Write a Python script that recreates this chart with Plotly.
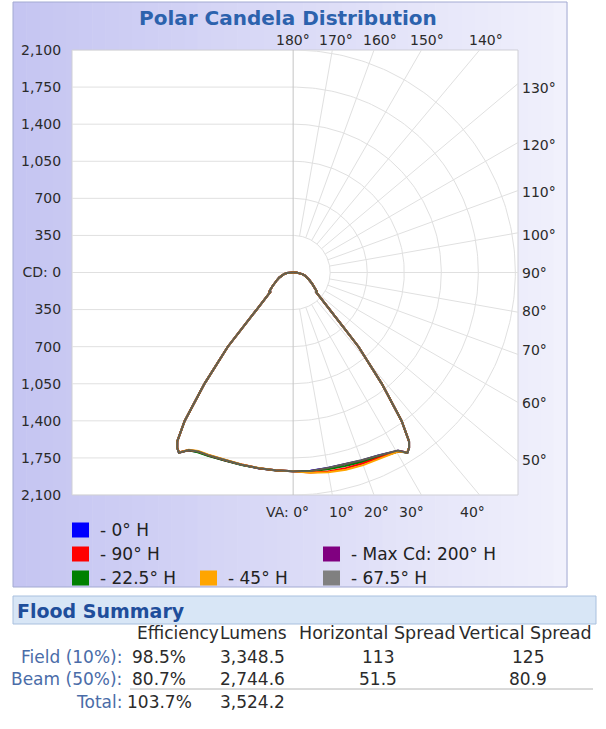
import numpy as np
import plotly.graph_objects as go

W, H = 606, 729
FONT = "DejaVu Sans"

# ---------------- data ----------------
# vertical angles (deg, 0 = straight down)
va_bottom = [0, 5, 10, 15, 20, 25, 28, 30.5, 32.4]
va_side = [33.5, 34.5, 36.2, 38.6, 41.4, 42.6, 44.6, 46.7, 49.8, 51, 52.5,
           56, 60, 65, 70, 75, 80, 85, 88, 90]
# candela shared by all planes beyond the peak (cut-off flank and top lobe)
cd_side = [1985, 1934, 1736, 1342, 934, 704, 491, 376, 277, 292, 275,
           240, 205, 168, 140, 115, 88, 60, 30, 0]

# candela of the main beam (VA 0 .. 32.4) per horizontal plane, right / left half
series_names = ["0° H", "Max Cd: 200° H", "22.5° H", "90° H", "45° H", "67.5° H"]
series_colors = ["#0000ff", "#800080", "#008000", "#ff0000", "#ffa500", "#808080"]
cd_right = {
    "0° H":           [1877, 1879, 1874, 1876, 1888, 1906, 1926, 1952, 2014],
    "Max Cd: 200° H": [1877, 1881, 1876, 1878, 1890, 1908, 1928, 1954, 2016],
    "22.5° H":        [1877, 1882, 1885, 1892, 1903, 1922, 1940, 1962, 2014],
    "90° H":          [1877, 1895, 1906, 1912, 1918, 1928, 1942, 1958, 2010],
    "45° H":          [1877, 1898, 1915, 1928, 1935, 1940, 1948, 1960, 2012],
    "67.5° H":        [1877, 1880, 1873, 1874, 1886, 1905, 1924, 1950, 2015],
}
cd_left = {
    "0° H":           [1877, 1874, 1876, 1879, 1886, 1904, 1916, 1946, 2014],
    "Max Cd: 200° H": [1877, 1875, 1877, 1880, 1888, 1906, 1918, 1948, 2016],
    "22.5° H":        [1877, 1875, 1877, 1881, 1889, 1908, 1921, 1948, 2013],
    "90° H":          [1877, 1874, 1875, 1877, 1884, 1901, 1912, 1944, 2010],
    "45° H":          [1877, 1873, 1874, 1876, 1880, 1897, 1909, 1942, 2012],
    "67.5° H":        [1877, 1873, 1875, 1878, 1884, 1902, 1914, 1945, 2015],
}

ring_values = [350, 700, 1050, 1400, 1750, 2100]
cd_tick_vals = [2100, 1750, 1400, 1050, 700, 350, 0, -350, -700, -1050, -1400, -1750, -2100]
cd_tick_text = ["2,100", "1,750", "1,400", "1,050", "700", "350", "CD: 0",
                "350", "700", "1,050", "1,400", "1,750", "2,100"]
radial_angles = list(range(10, 180, 10))

top_labels = ["180°", "170°", "160°", "150°", "140°"]
right_labels = ["130°", "120°", "110°", "100°", "90°", "80°", "70°", "60°", "50°"]
bottom_labels = ["VA: 0°", "10°", "20°", "30°", "40°"]

table_header = ["Efficiency", "Lumens", "Horizontal Spread", "Vertical Spread"]
table_rows = ["Field (10%):", "Beam (50%):", "Total:"]
efficiency = ["98.5%", "80.7%", "103.7%"]
lumens = ["3,348.5", "2,744.6", "3,524.2"]
h_spread = ["113", "51.5", ""]
v_spread = ["125", "80.9", ""]

# ---------------- layout geometry (pixels) ----------------
PL, PR, PT, PB = 72, 518, 50, 495          # plot area
XMIN, XMAX = -2090, 2125
YMAX = 2100


def px(x):
    return x / W


def py(y):
    return 1 - y / H


fig = go.Figure()

# ---------------- grid ----------------
gx, gy = [], []
for v in cd_tick_vals:
    gx += [XMIN, 0, None]
    gy += [v, v, None]
for r in ring_values:
    t = np.radians(np.linspace(0, 180, 181))
    gx += list(r * np.sin(t)) + [None]
    gy += list(-r * np.cos(t)) + [None]
for a in radial_angles:
    ar = np.radians(a)
    s, c = np.sin(ar), np.cos(ar)
    t_end = XMAX / s
    if abs(c) > 1e-9:
        t_end = min(t_end, YMAX / abs(c))
    gx += [350 * s, t_end * s, None]
    gy += [-350 * c, -t_end * c, None]
fig.add_trace(go.Scatter(x=gx, y=gy, mode="lines", line=dict(color="#e0e0e0", width=1),
                         hoverinfo="skip", showlegend=False))
fig.add_trace(go.Scatter(x=[0, 0], y=[-YMAX, YMAX], mode="lines",
                         line=dict(color="#c4c4c4", width=1),
                         hoverinfo="skip", showlegend=False))

# ---------------- candela curves ----------------
line_colors = {"67.5° H": "#5f5f52"}
for name, col in zip(series_names, series_colors):
    va_all = np.radians(np.array(va_bottom + va_side))
    cr = np.array(cd_right[name] + cd_side, dtype=float)
    cl = np.array(cd_left[name] + cd_side, dtype=float)
    xl = -cl * np.sin(va_all)
    yl = -cl * np.cos(va_all)
    xr = cr * np.sin(va_all)
    yr = -cr * np.cos(va_all)
    x = np.concatenate([xl[::-1], xr])
    y = np.concatenate([yl[::-1], yr])
    fig.add_trace(go.Scatter(x=x, y=y, mode="lines", name=name,
                             line=dict(color=line_colors.get(name, col), width=2),
                             hoverinfo="skip", showlegend=False))

# ---------------- shapes: panel, gradient, plot area ----------------
shapes = []
N = 42
x0p, x1p = 13, 567
c0 = np.array([197, 197, 242])
c1 = np.array([241, 241, 252])
for i in range(N):
    a0 = x0p + (x1p - x0p) * i / N
    a1 = x0p + (x1p - x0p) * (i + 1) / N
    f = i / (N - 1)
    cc = (c0 + (c1 - c0) * f).astype(int)
    shapes.append(dict(type="rect", xref="paper", yref="paper", layer="below",
                       x0=px(a0), x1=px(a1) + 0.001, y0=py(587), y1=py(2),
                       fillcolor=f"rgb({cc[0]},{cc[1]},{cc[2]})", line=dict(width=0)))
shapes.append(dict(type="rect", xref="paper", yref="paper", layer="below",
                   x0=px(x0p), x1=px(x1p), y0=py(587), y1=py(2),
                   fillcolor="rgba(0,0,0,0)", line=dict(color="#a3aad2", width=1)))
shapes.append(dict(type="rect", xref="paper", yref="paper", layer="below",
                   x0=px(PL), x1=px(PR), y0=py(PB), y1=py(PT),
                   fillcolor="white", line=dict(color="#cfcfd6", width=1)))
# Flood summary bar
shapes.append(dict(type="rect", xref="paper", yref="paper", layer="below",
                   x0=px(13), x1=px(596), y0=py(624), y1=py(596),
                   fillcolor="#d8e6f6", line=dict(color="#a9c0de", width=1)))
# separator under Beam row
shapes.append(dict(type="line", xref="paper", yref="paper", layer="below",
                   x0=px(130), x1=px(593), y0=py(689), y1=py(689),
                   line=dict(color="#b4b4b4", width=1)))

# legend squares
legend_pos = {
    "0° H": (72, 530), "90° H": (72, 554), "22.5° H": (72, 578),
    "45° H": (200, 578), "Max Cd: 200° H": (323, 554), "67.5° H": (323, 578),
}
for name, col in zip(series_names, series_colors):
    lx, ly = legend_pos[name]
    shapes.append(dict(type="rect", xref="paper", yref="paper", layer="above",
                       x0=px(lx), x1=px(lx + 17), y0=py(ly + 7.5), y1=py(ly - 7.5),
                       fillcolor=col, line=dict(width=0)))

# ---------------- annotations ----------------
anns = []


def ann(text, x, y, size, color="#2b2b2b", xanchor="center", bold=False):
    anns.append(dict(text=f"<b>{text}</b>" if bold else text, x=px(x), y=py(y),
                     xref="paper", yref="paper", showarrow=False,
                     xanchor=xanchor, yanchor="middle",
                     font=dict(family=FONT, size=size, color=color)))


ann("Polar Candela Distribution", 288, 18, 20, "#2c62ad", bold=True)
for t, x in zip(top_labels, [293, 336, 380, 427, 486]):
    ann(t, x, 40, 14)
for t, y in zip(right_labels, [88, 145, 192, 235, 273, 311, 350, 403, 460]):
    ann(t, 520, y, 14, xanchor="left")
ann(bottom_labels[0], 311, 512, 14, xanchor="right")
for t, x in zip(bottom_labels[1:], [342, 376, 411, 472]):
    ann(t, x, 512, 14)

for name in series_names:
    lx, ly = legend_pos[name]
    ann("- " + name, lx + 26, ly, 17, "#222222", xanchor="left")

ann("Flood Summary", 15, 611, 19, "#1f4e9b", xanchor="left", bold=True)
ann(table_header[0], 135, 633, 17, xanchor="left")
ann(table_header[1], 218, 633, 17, xanchor="left")
ann(table_header[2], 297, 633, 17.5, xanchor="left")
ann(table_header[3], 457, 633, 17.5, xanchor="left")
row_y = [657, 679, 702]
for i, ry in enumerate(row_y):
    ann(table_rows[i], 124, ry, 17, "#4a6ca8", xanchor="right")
    ann(efficiency[i], 159, ry, 17)
    ann(lumens[i], 252, ry, 17)
    if h_spread[i]:
        ann(h_spread[i], 378, ry, 17)
    if v_spread[i]:
        ann(v_spread[i], 528, ry, 17)

fig.update_layout(
    width=W, height=H, margin=dict(l=0, r=0, t=0, b=0, pad=0), autosize=False,
    paper_bgcolor="white", plot_bgcolor="rgba(0,0,0,0)",
    shapes=shapes, annotations=anns, showlegend=False,
    xaxis=dict(domain=[px(PL), px(PR)], range=[XMIN, XMAX], showgrid=False,
               zeroline=False, showticklabels=False, showline=False, fixedrange=True,
               automargin=False),
    yaxis=dict(domain=[py(PB), py(PT)], range=[-YMAX, YMAX], showgrid=False,
               zeroline=False, showline=False, tickmode="array", automargin=False,
               tickvals=cd_tick_vals, ticktext=cd_tick_text, ticks="outside",
               ticklen=7, tickcolor="rgba(0,0,0,0)",
               tickfont=dict(family=FONT, size=14, color="#2b2b2b"), fixedrange=True),
)

fig.write_html("out.html", config={"displayModeBar": False, "responsive": False},
               post_script="document.body.style.margin='0';document.body.style.overflow='hidden';")
